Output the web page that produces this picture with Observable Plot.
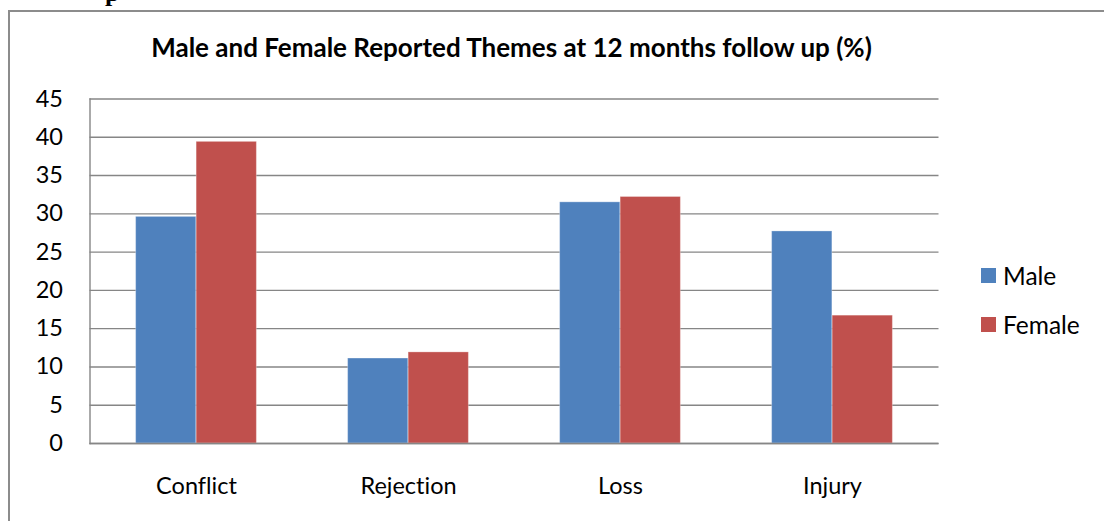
<!DOCTYPE html>
<html>
<head>
<meta charset="utf-8">
<script src="https://cdn.jsdelivr.net/npm/d3@7"></script>
<script src="https://cdn.jsdelivr.net/npm/@observablehq/plot@0.6"></script>
<style>
  html, body { margin: 0; padding: 0; background: #fff; }
  #wrap { position: relative; width: 1104px; height: 521px; overflow: hidden; font-family: Lato, "Open Sans", sans-serif; font-variant-ligatures: none; }
  #wrap svg text { font-variant-ligatures: none; }
  #frame { position: absolute; left: 8px; top: 10px; width: 1120px; height: 540px; border: 2px solid #8c8c8c; box-sizing: border-box; }
  #cut { position: absolute; left: 105px; top: -22px; font: bold 26px "Liberation Serif", serif; color: #000; }
  #title { position: absolute; left: 0; width: 1023px; top: 32px; text-align: center; font-weight: bold; font-size: 26px; line-height: 31px; color: #000; }
  #legend { position: absolute; left: 981px; top: 251px; font-size: 24.5px; color: #000; }
  .item { display: flex; align-items: center; height: 49px; }
  .sw { width: 15px; height: 15px; margin-right: 7px; }
  #chart { position: absolute; left: 0; top: 0; }
</style>
</head>
<body>
<div id="wrap">
  <div id="cut">p</div>
  <div id="frame"></div>
  <div id="chart"></div>
  <div id="title"></div>
  <div id="legend"></div>
</div>
<script>
const titleText = "Male and Female Reported Themes at 12 months follow up (%)";
const categories = ["Conflict", "Rejection", "Loss", "Injury"];
const series = ["Male", "Female"];
const maleValues = [29.6, 11.1, 31.5, 27.7];
const femaleValues = [39.4, 11.9, 32.2, 16.7];
const yTicks = [0, 5, 10, 15, 20, 25, 30, 35, 40, 45];
const colors = ["#4F81BD", "#C0504D"];

const data = [];
categories.forEach((c, i) => {
  data.push({category: c, sex: "Male", value: maleValues[i]});
  data.push({category: c, sex: "Female", value: femaleValues[i]});
});

const W = 1104, H = 521;
const mL = 89.5, mR = 165.5, mT = 98.5, mB = 78;
const step = (W - mL - mR) / categories.length;
const barW = step * 0.285;
const half = step / 2;

const plot = Plot.plot({
  width: W, height: H,
  marginLeft: mL, marginRight: mR, marginTop: mT, marginBottom: mB,
  style: {fontFamily: "Lato, 'Open Sans', sans-serif", fontSize: "23.5px", color: "#000", background: "transparent", overflow: "visible"},
  x: {domain: categories, padding: 0, tickSize: 0, tickPadding: 34, label: null},
  y: {domain: [0, 45], ticks: yTicks, tickSize: 0, tickPadding: 27, label: null, tickFormat: d => String(d)},
  color: {domain: series, range: colors},
  marks: [
    Plot.gridY(yTicks, {stroke: "#868686", strokeOpacity: 1, strokeWidth: 1.4}),
    Plot.barY(data.filter(d => d.sex === "Male"), {x: "category", y: "value", fill: "sex", insetLeft: half - barW, insetRight: half, stroke: "#ffffff", strokeOpacity: 0.3, strokeWidth: 1}),
    Plot.barY(data.filter(d => d.sex === "Female"), {x: "category", y: "value", fill: "sex", insetLeft: half, insetRight: half - barW, stroke: "#ffffff", strokeOpacity: 0.3, strokeWidth: 1}),
    Plot.ruleY([0], {stroke: "#868686", strokeWidth: 1.4}),
    Plot.frame({anchor: "left", stroke: "#868686", strokeWidth: 1.4})
  ]
});
document.getElementById("chart").appendChild(plot);
document.getElementById("title").textContent = titleText;

const legend = document.getElementById("legend");
series.forEach((s, i) => {
  const item = document.createElement("div");
  item.className = "item";
  const sw = document.createElement("div");
  sw.className = "sw";
  sw.style.background = colors[i];
  const t = document.createElement("span");
  t.textContent = s;
  item.appendChild(sw);
  item.appendChild(t);
  legend.appendChild(item);
});
</script>
</body>
</html>
